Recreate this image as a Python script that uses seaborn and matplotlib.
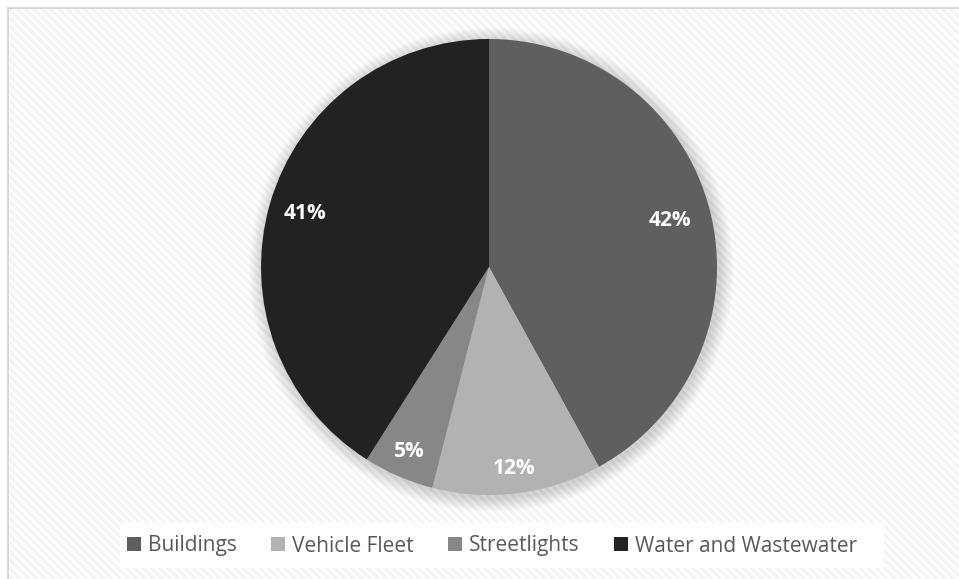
import numpy as np
import seaborn as sns
import matplotlib.pyplot as plt
from matplotlib.patches import Rectangle, Circle

# data
categories = ["Buildings", "Vehicle Fleet", "Streetlights", "Water and Wastewater"]
shares = [42, 12, 5, 41]
colors = ["#5f5f5f", "#b2b2b2", "#878787", "#222222"]

sns.set_theme(style="white")
plt.rcParams['font.family'] = ['Open Sans', 'DejaVu Sans']
plt.rcParams['hatch.linewidth'] = 2.2

W, H = 959, 579
fig = plt.figure(figsize=(W / 100, H / 100), dpi=100)
fig.patch.set_facecolor("white")

# hatched chart area background
bg = Rectangle((8 / W, 0), 1.0, 1 - 8 / H, transform=fig.transFigure,
               facecolor="white", edgecolor="#f4f4f4", linewidth=0,
               hatch="\\\\\\\\", zorder=-3)
fig.patches.append(bg)
# light border on top / left
border = Rectangle((8 / W, -0.1), 1.2, 1.1 - 8 / H, transform=fig.transFigure,
                   facecolor="none", edgecolor="#d9d9d9", linewidth=1.5, zorder=-2)
fig.patches.append(border)
# white legend box
lbox = Rectangle((120 / W, 1 - 568 / H), 764 / W, 45 / H, transform=fig.transFigure,
                 facecolor="white", edgecolor="none", zorder=-1)
fig.patches.append(lbox)

# pie axes: center (489, 267) px, radius 228 px
cx, cy, r = 489, H - 267, 228
ax = fig.add_axes([(cx - r) / W, (cy - r) / H, 2 * r / W, 2 * r / H])
ax.set_facecolor("none")

# soft shadow (stacked faint circles)
for i in range(14):
    ax.add_patch(Circle((0.01, -0.012), 1.0 + 0.0045 * (i + 1), color="#000000",
                        alpha=0.012, lw=0, zorder=0, clip_on=False))

wedges, _ = ax.pie(shares, colors=colors, startangle=90, counterclock=False,
                   radius=1.0, wedgeprops=dict(linewidth=0, zorder=2))

label_dist = [0.82, 0.89, 0.88, 0.84]
for w, v, d in zip(wedges, shares, label_dist):
    ang = np.deg2rad((w.theta1 + w.theta2) / 2)
    ax.text(d * np.cos(ang), d * np.sin(ang), f"{v}%", ha="center", va="center",
            color="white", fontsize=15, fontweight="bold", zorder=3)

ax.set_xlim(-1, 1)
ax.set_ylim(-1, 1)
ax.set_aspect("equal")
ax.axis("off")

handles = [Rectangle((0, 0), 1, 1, facecolor=c, edgecolor="none") for c in colors]
leg = fig.legend(handles, categories, loc="center", ncol=4,
                 bbox_to_anchor=(492 / W, 1 - 546 / H), frameon=False,
                 fontsize=15, handlelength=0.67, handleheight=0.67,
                 handletextpad=0.33, columnspacing=1.65, borderpad=0.3)
for t in leg.get_texts():
    t.set_color("#595959")

fig.savefig("out.png", dpi=100)
